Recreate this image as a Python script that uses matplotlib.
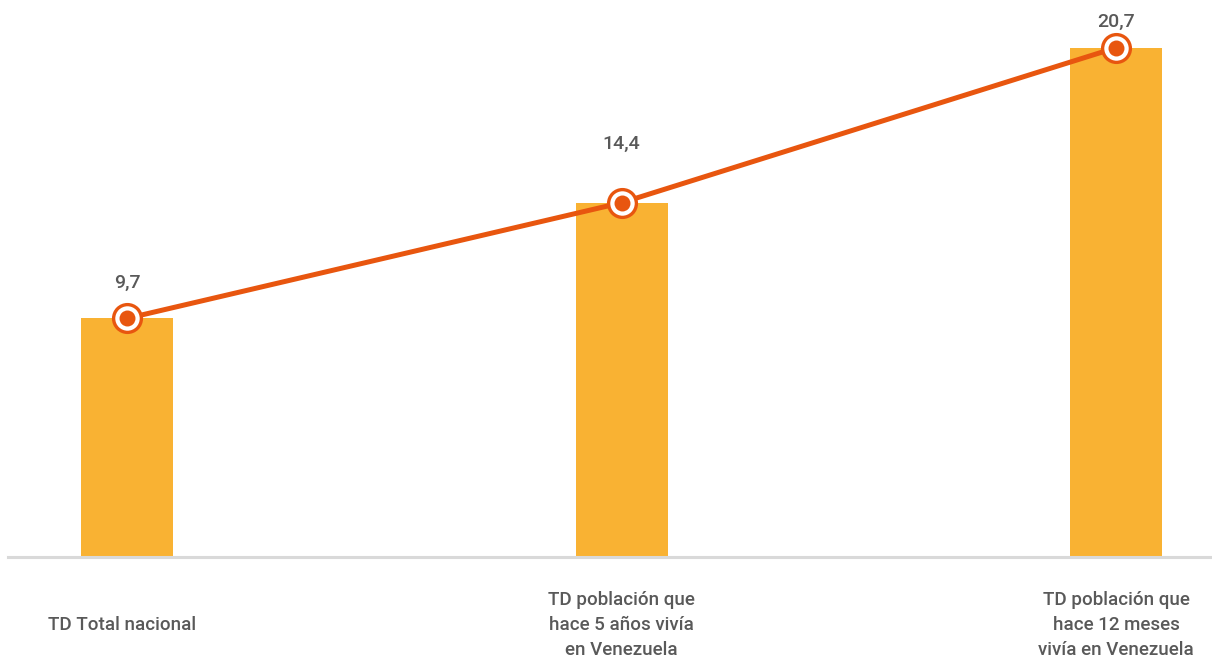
import matplotlib.pyplot as plt

# categories and values
categorias = [
    "TD Total nacional",
    "TD población que\nhace 5 años vivía\nen Venezuela",
    "TD población que\nhace 12 meses\nvivía en Venezuela",
]
valores = [9.7, 14.4, 20.7]
etiquetas = ["9,7", "14,4", "20,7"]

BAR = "#F9B233"
LINE = "#E8560F"
GRAY = "#595959"

plt.rcParams['font.family'] = ['Roboto', 'DejaVu Sans']

fig = plt.figure(figsize=(12.12, 6.6), dpi=100)
ax = fig.add_axes([8 / 1212, 103 / 660, 1 - 8 / 1212, 557 / 660])

x = list(range(len(valores)))
ax.bar(x, valores, width=0.186, color=BAR, zorder=1)
ax.plot(x, valores, color=LINE, lw=3.6, zorder=2, solid_capstyle='round')
ax.plot(x, valores, ls='none', marker='o', ms=20, mfc='white', mec=LINE, mew=2.4, zorder=3)
ax.plot(x, valores, ls='none', marker='o', ms=11.5, mfc=LINE, mec=LINE, mew=0, zorder=4)

# label offsets above the markers (points)
offsets = [19, 36, 12]
for xi, v, lab, off in zip(x, valores, etiquetas, offsets):
    ax.annotate(lab, (xi, v), xytext=(0, off), textcoords='offset points',
                ha='center', va='bottom', fontsize=14, fontweight='medium',
                color=GRAY, clip_on=False)

# category labels below axis
label_dx = [-0.01, 0.0, 0.0]
for xi, dx, c in zip(x, label_dx, categorias):
    ax.text(xi + dx, -68 / 24.6, c, ha='center', va='center', multialignment='center',
            fontsize=13.5, fontweight='medium', color=GRAY, linespacing=1.5,
            clip_on=False)

ax.set_xlim(-0.241, 2.194)
ax.set_ylim(0, 22.64)
for s in ['top', 'right', 'left']:
    ax.spines[s].set_visible(False)
ax.spines['bottom'].set_color('#D9D9D9')
ax.spines['bottom'].set_linewidth(2.2)
ax.set_xticks([])
ax.set_yticks([])

fig.savefig('out.png', dpi=100)
